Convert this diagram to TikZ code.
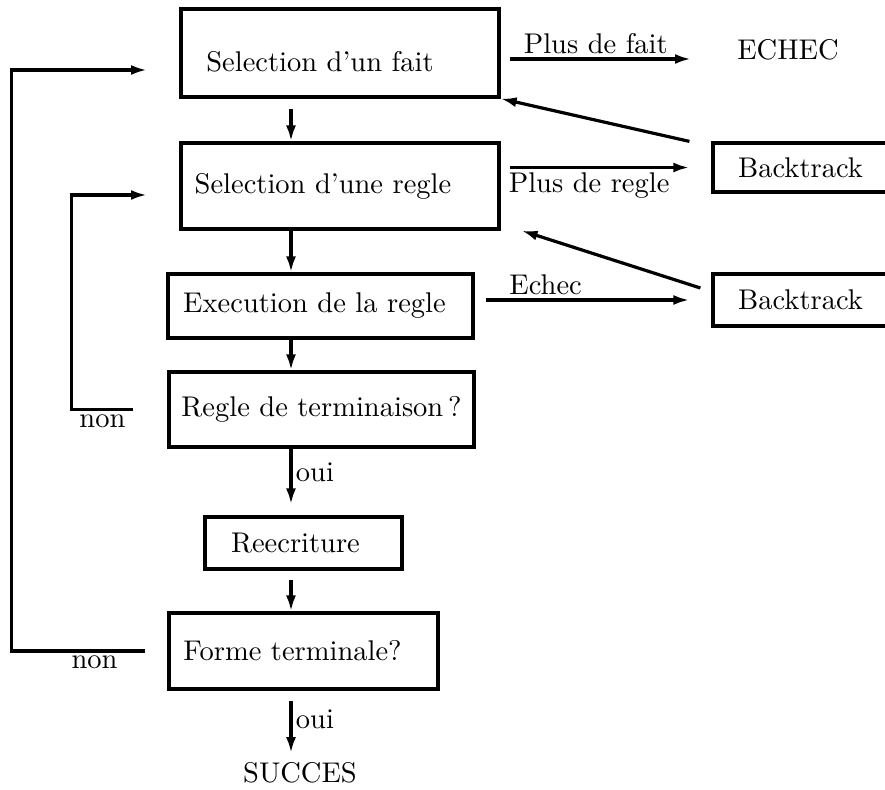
\documentclass[tikz,border=0pt]{standalone}
\usetikzlibrary{arrows.meta,positioning}
\DeclareFontShape{TU}{lmr}{m}{n}{<-> "[lmroman10-regular]:mapping=tex-text"}{}
\tikzset{base text/.style={font=\fontsize{28.5}{34}\selectfont}}
\tikzset{flow box/.style={rectangle, draw, line width=3.2pt, inner sep=0pt}}
\tikzset{pad right/.style={execute at end node={\hspace*{#1}}}}
\tikzset{flow edge/.style={line width=3.2pt, -{Latex[length=16pt,width=10pt]}}}

\begin{document}
\begin{tikzpicture}
  [x=1pt, y=-1pt, every node/.style={base text}]
  \useasboundingbox (0, 0) rectangle (885, 789);

  \node [flow box, minimum width=318pt, minimum height=88pt, pad right=40pt, text height=38pt] (fait) at (340.0,  53.0) {Selection d'un fait};
  \node [flow box, minimum width=318pt, minimum height=86pt, pad right=34pt] (regle)  at (340.0, 186.0) {Selection d'une regle};
  \node [flow box, minimum width=305pt, minimum height=64pt, pad right=12pt] (exec)   at (320.5, 306.0) {Execution de la regle};
  \node [flow box, minimum width=305pt, minimum height=75pt]                 (term)   at (321.5, 409.5) {Regle de terminaison\,?};
  \node [flow box, minimum width=197pt, minimum height=52pt, pad right=16pt] (reecr)  at (303.5, 543.0) {Reecriture};
  \node [flow box, minimum width=269pt, minimum height=76pt, pad right=22pt] (forme)  at (303.5, 651.0) {Forme terminale?};
  \node [flow box, minimum width=175pt, minimum height=49pt]                 (back1)  at (800.5, 167.5) {Backtrack};
  \node [flow box, minimum width=175pt, minimum height=52pt]                 (back2)  at (800.5, 300.0) {Backtrack};
  \node                                                                      (echec)  at (788.0,  50.0) {ECHEC};
  \node                                                                      (succes) at (300.0, 773.0) {SUCCES};

  \coordinate (spine)   at (291,   0);
  \coordinate (pfend)   at (691,  59);
  \coordinate (faitin)  at (147,  70);
  \coordinate (reglein) at (147, 195);

  \draw [flow edge, shorten <=10pt] (fait.south  -| spine) -- (regle.north -| spine);
  \draw [flow edge]                 (regle.south -| spine) -- (exec.north  -| spine);
  \draw [flow edge]                 (exec.south  -| spine) -- (term.north  -| spine);
  \draw [flow edge, shorten >=11pt] (term.south  -| spine) -- node [right, pos=0.35] {oui} (reecr.north -| spine);
  \draw [flow edge, shorten <=9pt]  (reecr.south -| spine) -- (forme.north -| spine);
  \draw [flow edge, shorten <=10pt, shorten >=6pt] (forme.south -| spine) -- node [right, pos=0.42] {oui} (succes.north -| spine);

  \draw [flow edge, shorten <=9pt]  (fait.east |- pfend) -- node [above] {Plus de fait} (pfend);
  \draw [flow edge, shorten <=9pt, shorten >=22pt]  (regle.east |- back1.west) -- node [below, pos=0.42] {Plus de regle} (back1.west);
  \draw [flow edge, shorten <=11pt, shorten >=22pt] (exec.east  |- back2.west) -- node [above, pos=0.3] {Echec} (back2.west);
  \draw [flow edge] ([xshift=-22pt]back1.north west) -- (fait.south east);
  \draw [flow edge] ([shift={(-11pt,12pt)}]back2.west) -- ([xshift=21pt]regle.south east);

  \draw [flow edge] ([xshift=-22pt]forme.west) -- node [below, pos=0.38] {non} ++(-134, 0) |- (faitin);
  \draw [flow edge] ([xshift=-34pt]term.west)  -- node [below] {non} ++(-62, 0) |- (reglein);
\end{tikzpicture}
\end{document}
